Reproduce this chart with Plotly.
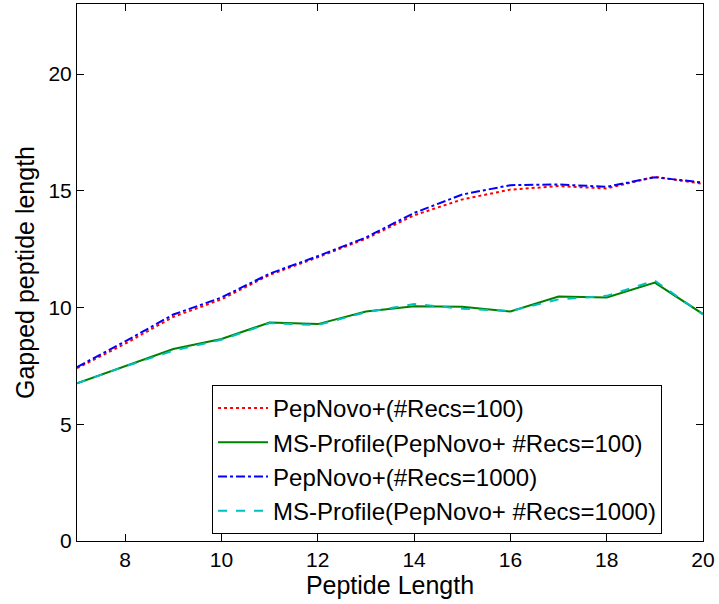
import plotly.graph_objects as go

# Peptide lengths on the x axis
peptide_length = [7, 8, 9, 10, 11, 12, 13, 14, 15, 16, 17, 18, 19, 20]

# Mean gapped peptide length per series
pepnovo_100 = [7.40, 8.45, 9.60, 10.35, 11.40, 12.15, 12.95, 13.95, 14.63, 15.05, 15.20, 15.10, 15.60, 15.30]
msprofile_100 = [6.75, 7.50, 8.22, 8.65, 9.36, 9.29, 9.83, 10.05, 10.03, 9.83, 10.47, 10.43, 11.07, 9.72]
pepnovo_1000 = [7.45, 8.55, 9.70, 10.43, 11.45, 12.20, 13.00, 14.05, 14.84, 15.24, 15.27, 15.17, 15.58, 15.35]
msprofile_1000 = [6.75, 7.48, 8.15, 8.62, 9.33, 9.25, 9.80, 10.15, 9.95, 9.85, 10.35, 10.50, 11.15, 9.70]

series_names = [
    "PepNovo+(#Recs=100)",
    "MS-Profile(PepNovo+ #Recs=100)",
    "PepNovo+(#Recs=1000)",
    "MS-Profile(PepNovo+ #Recs=1000)",
]

x_ticks = [8, 10, 12, 14, 16, 18, 20]
y_ticks = [0, 5, 10, 15, 20]

FONT = "Liberation Sans, Arial, Helvetica, sans-serif"

fig = go.Figure()
styles = [
    (pepnovo_100, "#ff0000", "dot"),
    (msprofile_100, "#008000", "solid"),
    (pepnovo_1000, "#0000ff", "dashdot"),
    (msprofile_1000, "#00bfbf", "dash"),
]
for (ys, color, dash), name in zip(styles, series_names):
    fig.add_trace(go.Scatter(
        x=peptide_length, y=ys, mode="lines", name=name,
        line=dict(color=color, width=2, dash=dash),
    ))

axis_common = dict(
    showline=True, linecolor="black", linewidth=1, mirror="ticks",
    ticks="inside", ticklen=7, tickcolor="black", tickwidth=1,
    showgrid=False, zeroline=False,
    tickfont=dict(family=FONT, size=21, color="black"),
)

fig.update_layout(
    width=719, height=604,
    margin=dict(l=77, r=16, t=4, b=63),
    paper_bgcolor="white", plot_bgcolor="white",
    font=dict(family=FONT, color="black"),
    xaxis=dict(
        range=[7, 20], tickvals=x_ticks,
        title=dict(text="Peptide Length", font=dict(family=FONT, size=25), standoff=4),
        **axis_common,
    ),
    yaxis=dict(
        range=[0, 23], tickvals=y_ticks,
        title=dict(text="Gapped peptide length", font=dict(family=FONT, size=25), standoff=6),
        **axis_common,
    ),
    legend=dict(
        x=0.2157, y=0.013, xanchor="left", yanchor="bottom",
        bgcolor="white", bordercolor="black", borderwidth=1,
        font=dict(family=FONT, size=24, color="black"),
        tracegroupgap=0, itemwidth=50,
    ),
    showlegend=True,
)

fig.write_html("out.html")
